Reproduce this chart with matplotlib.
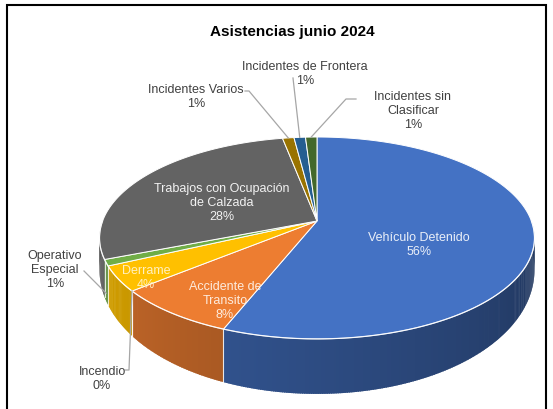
import numpy as np
import matplotlib.pyplot as plt
from matplotlib.patches import Polygon
from matplotlib.collections import PolyCollection
from matplotlib.colors import to_rgb

# data
title = "Asistencias junio 2024"
names = ["Vehículo Detenido", "Accidente de\nTransito", "Incendio", "Derrame",
         "Operativo\nEspecial", "Trabajos con Ocupación\nde Calzada",
         "Incidentes Varios", "Incidentes de Frontera", "Incidentes sin\nClasificar"]
shares = [56, 8, 0, 4, 1, 28, 1, 1, 1]
colors = ["#4472C4", "#ED7D31", "#A5A5A5", "#FFC000", "#70AD47",
          "#636363", "#997300", "#255E91", "#43682B"]
text_colors = ["#EAEFF8", "#FDEBDD", "#404040", "#FFF0C0", "#404040",
               "#F2F2F2", "#404040", "#404040", "#404040"]
# label centres (pixels) and leader line start points
label_pos = [(419, 245), (225, 301), (102, 379), (146, 278), (55, 270),
             (222, 203), (196, 97), (305, 74), (413, 111)]
leader_start = {2: [(125, 371), (129, 371)], 4: [(84, 272)],
                6: [(245, 92), (249, 92)], 7: [(293, 79)],
                8: [(356, 100), (346, 100)]}

W, H = 553, 410
cx, cy = 317, 222          # pie apex on screen
a, b, p = 214.4, 98.1, 0.168


def rim(theta):
    t = np.radians(theta)
    u, v = np.sin(t), np.cos(t)
    s = 1.0 / (1.0 + p * v)
    return cx + a * u * s, cy - b * v * s


def depth(theta):
    v = np.cos(np.radians(theta))
    return 27 + 28 * np.clip(-v, 0, None)


def shade(theta):
    return 0.88 - 0.43 * (270 - theta) / 180.0


fig = plt.figure(figsize=(W / 100, H / 100), dpi=100)
ax = fig.add_axes([0, 0, 1, 1])
ax.set_xlim(0, W)
ax.set_ylim(H, 0)
ax.axis('off')

bounds = np.concatenate([[0], np.cumsum(shares)]) * 360.0 / sum(shares)

# side walls (front half only), thin overlapping strips for the shading
polys, fcs = [], []
for i in range(len(shares)):
    s0, s1 = max(bounds[i], 90), min(bounds[i + 1], 270)
    if s1 <= s0:
        continue
    n = max(2, int((s1 - s0) / 0.5) + 1)
    ts = np.linspace(s0, s1, n)
    step = ts[1] - ts[0]
    base = np.array(to_rgb(colors[i]))
    for t0, t1 in zip(ts[:-1], ts[1:]):
        t1e = min(t1 + 0.6 * step, s1)
        x0, y0 = rim(t0)
        x1, y1 = rim(t1e)
        polys.append([(x0, y0), (x1, y1), (x1, y1 + depth(t1e)), (x0, y0 + depth(t0))])
        fcs.append(np.clip(base * shade((t0 + t1) / 2), 0, 1))
ax.add_collection(PolyCollection(polys, facecolors=fcs, edgecolors='none', linewidths=0, zorder=1))

for t in bounds:
    if 90 < t < 270:
        x, y = rim(t)
        ax.plot([x, x], [y, y + depth(t)], color='white', lw=0.8, alpha=0.8, zorder=1.5)

# top faces
for i in range(len(shares)):
    if shares[i] == 0:
        continue
    ts = np.linspace(bounds[i], bounds[i + 1], max(2, int((bounds[i + 1] - bounds[i]) / 0.5) + 1))
    pts = [(cx, cy)] + [rim(t) for t in ts]
    ax.add_patch(Polygon(pts, closed=True, facecolor=colors[i], edgecolor='white', lw=0.7, zorder=2))

ts = np.linspace(90, 270, 200)
rx, ry = zip(*[rim(t) for t in ts])
ax.plot(rx, ry, color='white', lw=0.9, alpha=0.7, zorder=2.5)

# labels
for i in range(len(shares)):
    txt = f"{names[i]}\n{shares[i]:.0f}%"
    x, y = label_pos[i]
    ax.text(x, y, txt, ha='center', va='center', fontsize=9, family='Liberation Sans',
            color=text_colors[i], linespacing=1.25, zorder=4)

# leader lines
for i, pts in leader_start.items():
    mid = (bounds[i] + bounds[i + 1]) / 2
    ex, ey = rim(mid)
    if i == 4:
        ey += 0.8 * depth(mid)
    xs = [q[0] for q in pts] + [ex]
    ys = [q[1] for q in pts] + [ey]
    ax.plot(xs, ys, color='#A6A6A6', lw=0.9, zorder=3)

ax.text(292, 32, title, ha='center', va='center', fontsize=11, fontweight='bold',
        family='Liberation Sans', color='black')

# frame
ax.plot([7, 7, 546, 546], [H, 6, 6, H], color='black', lw=1.5, solid_joinstyle='miter')

fig.savefig('out.png', dpi=100)
